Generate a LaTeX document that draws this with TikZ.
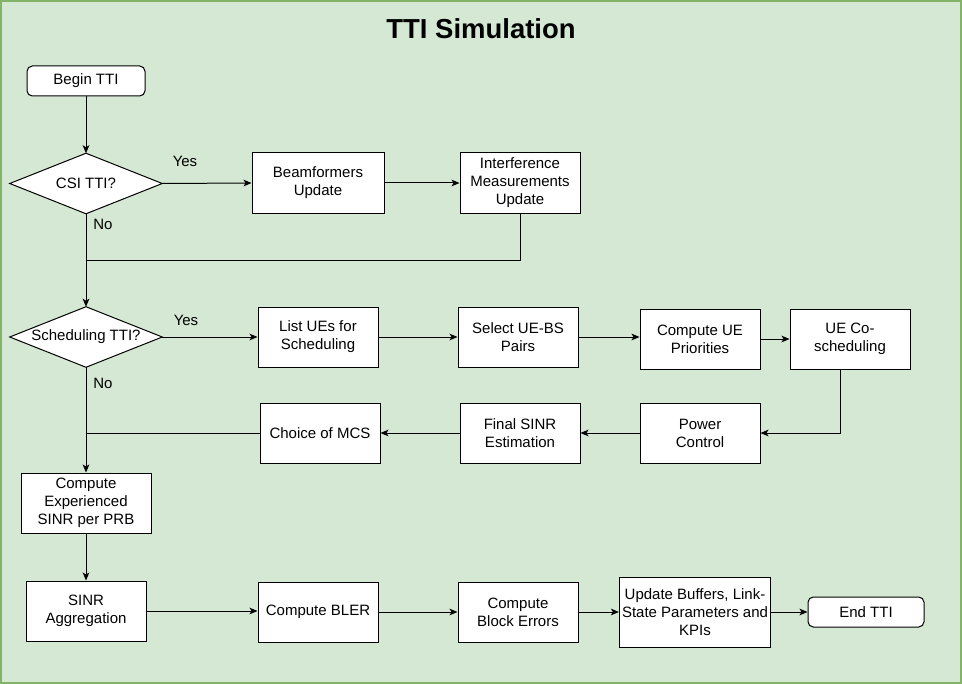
\documentclass[tikz,border=0pt]{standalone}
\usepackage{fontspec}
\setmainfont{Liberation Sans}
\usetikzlibrary{arrows.meta}
\definecolor{bgfill}{HTML}{D5E8D4}
\definecolor{bgline}{HTML}{82B366}
\begin{document}
\begin{tikzpicture}[x=0.75pt,y=-0.75pt,
  txt/.style={font=\fontsize{11.25}{13.5}\selectfont, align=center},
  box/.style={txt, draw, fill=white, line width=0.75pt, minimum width=90pt, minimum height=45pt, inner sep=2pt},
  term/.style={box, rounded corners=4pt, minimum height=22.5pt},
  dia/.style={txt, minimum width=114pt, minimum height=45pt, inner sep=0pt},
  lbl/.style={txt, inner sep=0pt},
  arr/.style={line width=0.75pt, -{Stealth[length=6pt,width=5pt,inset=1.5pt]}},
  ln/.style={line width=0.75pt}]
\useasboundingbox (0,0) rectangle (962,684);
\draw[fill=bgfill, draw=bgline, line width=1.2pt] (0.8,0.8) rectangle (961.2,683.2);
\node[font=\fontsize{20.6}{24}\selectfont\bfseries] (title) at (481,29) {TTI Simulation};

\node[term, minimum width=88.5pt] (begin) at (86,81) {Begin TTI};
\node[dia] (csi) at (86,183.5) {CSI TTI?};
\draw[ln, fill=white] (csi.west) -- (csi.north) -- (csi.east) -- (csi.south) -- cycle;
\node[dia] at (86,183.5) {CSI TTI?};
\node[box, minimum width=99pt] (beam) at (318,183) {Beamformers\\Update};
\node[box] (intf) at (520,183) {Interference\\Measurements\\Update};
\node[lbl] (yes1) at (185,161) {Yes};
\node[lbl] (no1) at (103,224) {No};

\node[dia] (sched) at (86,337) {Scheduling TTI?};
\draw[ln, fill=white] (sched.west) -- (sched.north) -- (sched.east) -- (sched.south) -- cycle;
\node[dia] at (86,337) {Scheduling TTI?};
\node[lbl] (yes2) at (186,320) {Yes};
\node[lbl] (no2) at (103,383) {No};

\node[box] (list) at (318,337) {List UEs for\\Scheduling};
\node[box] (sel) at (518,337) {Select UE-BS\\Pairs};
\node[box] (cup) at (700,339) {Compute UE\\Priorities};
\node[box] (ucs) at (850,339) {UE Co-\\scheduling};
\node[box] (pc) at (700,433) {Power\\Control};
\node[box] (fse) at (520,433) {Final SINR\\Estimation};
\node[box] (mcs) at (320,433) {Choice of MCS};

\node[box, minimum width=97.5pt] (cesp) at (86,503) {Compute\\Experienced\\SINR per PRB};
\node[box] (agg) at (86,611) {SINR\\Aggregation};
\node[box] (bler) at (318,612) {Compute BLER};
\node[box] (cbe) at (518,612) {Compute\\Block Errors};
\node[box, minimum width=112.5pt, minimum height=52.5pt] (upd) at (695,612) {Update Buffers, Link-\\State Parameters and\\KPIs};
\node[term, minimum width=87pt] (endt) at (866,612) {End TTI};

\coordinate (j1) at (86,260);
\coordinate (j2) at (86,433);

\draw[arr] (begin) -- (csi.north);
\draw[arr] (csi.east) -- (beam.west);
\draw[arr] (beam) -- (intf);
\draw[arr] (csi.south) -- (sched.north);
\draw[ln] (intf.south) |- (j1);
\draw[arr] (sched.east) -- (list.west);
\draw[arr] (list) -- (sel);
\draw[arr] (sel.east) -- (sel.east -| cup.west);
\draw[arr] (cup) -- (ucs);
\draw[arr] ([xshift=-7.5pt]ucs.south) |- (pc.east);
\draw[arr] (pc) -- (fse);
\draw[arr] (fse) -- (mcs);
\draw[ln] (mcs.west) -- (j2);
\draw[arr] (sched.south) -- (cesp.north);
\draw[arr] (cesp) -- (agg);
\draw[arr] (agg.east) -- (agg.east -| bler.west);
\draw[arr] (bler) -- (cbe);
\draw[arr] (cbe) -- (upd);
\draw[arr] (upd) -- (endt);
\end{tikzpicture}
\end{document}
